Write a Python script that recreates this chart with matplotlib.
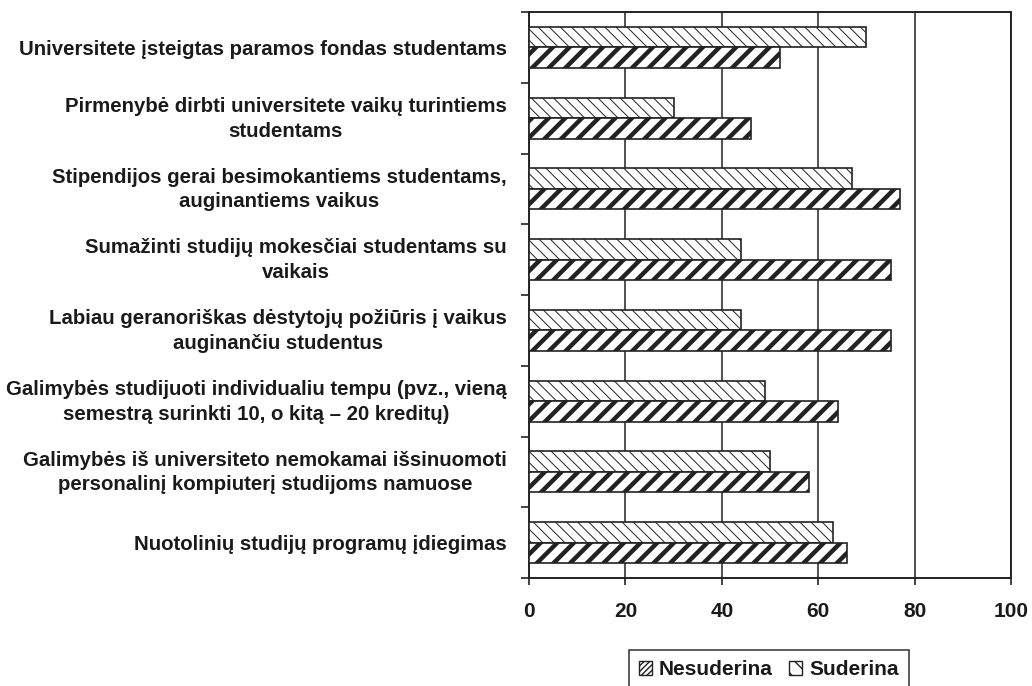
import matplotlib
matplotlib.use("Agg")
import matplotlib.pyplot as plt
import matplotlib.transforms as mtransforms
import numpy as np
from matplotlib.patches import Patch

categories = [
    "Universitete įsteigtas paramos fondas studentams",
    "Pirmenybė dirbti universitete vaikų turintiems\nstudentams",
    "Stipendijos gerai besimokantiems studentams,\nauginantiems vaikus",
    "Sumažinti studijų mokesčiai studentams su\nvaikais",
    "Labiau geranoriškas dėstytojų požiūris į vaikus\nauginančiu studentus",
    "Galimybės studijuoti individualiu tempu (pvz., vieną\nsemestrą surinkti 10, o kitą – 20 kreditų)",
    "Galimybės iš universiteto nemokamai išsinuomoti\npersonalinį kompiuterį studijoms namuose",
    "Nuotolinių studijų programų įdiegimas",
]
nesuderina = [52, 46, 77, 75, 75, 64, 58, 66]
suderina = [70, 30, 67, 44, 44, 49, 50, 63]
x_ticks = [0, 20, 40, 60, 80, 100]

plt.rcParams['font.family'] = ['Liberation Sans', 'DejaVu Sans']
plt.rcParams['font.weight'] = 'bold'
text_color = '#1a1a1a'
edge = '#222222'

fig = plt.figure(figsize=(10.32, 6.86), dpi=100)
ax = fig.add_axes([0.5126, 0.1574, 0.4671, 0.8251])

y = np.arange(len(categories))
h = 0.29

sud_bars = ax.barh(y - h / 2, suderina, height=h, color='white', edgecolor=edge,
                   linewidth=1.2, hatch='\\\\\\', zorder=3)
nes_bars = ax.barh(y + h / 2, nesuderina, height=h, color='white', edgecolor=edge,
                   linewidth=1.2, hatch='//', zorder=3)
for p in sud_bars:
    if hasattr(p, 'set_hatch_linewidth'):
        p.set_hatch_linewidth(0.7)
for p in nes_bars:
    if hasattr(p, 'set_hatch_linewidth'):
        p.set_hatch_linewidth(3.2)

ax.set_xlim(0, 100)
ax.set_ylim(len(categories) - 0.5, -0.5)
ax.set_xticks(x_ticks)
ax.set_xticklabels([str(t) for t in x_ticks], fontsize=15, fontweight='bold', color=text_color)
ax.tick_params(axis='x', direction='out', length=5, width=1.2, color=edge, pad=12)

ax.set_yticks(y)
ax.set_yticklabels(categories, fontsize=14.7, fontweight='bold', color=text_color,
                   multialignment='center', linespacing=1.38)
ax.tick_params(axis='y', which='major', length=0, pad=16)
ax.set_yticks(np.arange(len(categories) + 1) - 0.5, minor=True)
ax.tick_params(axis='y', which='minor', direction='out', length=6, width=1.2, color=edge)

# nudge two-line category labels up a little
shift = mtransforms.ScaledTranslation(0, 3 / 72, fig.dpi_scale_trans)
for lbl in ax.get_yticklabels():
    if '\n' in lbl.get_text():
        lbl.set_transform(lbl.get_transform() + shift)

ax.xaxis.grid(True, color='#333333', linewidth=1.2, zorder=0)
ax.set_axisbelow(True)
for s in ax.spines.values():
    s.set_color(edge)
    s.set_linewidth(1.4)

handles = [
    Patch(facecolor='white', edgecolor=edge, hatch='//////', label='Nesuderina'),
    Patch(facecolor='white', edgecolor=edge, hatch='\\\\', label='Suderina'),
]
leg = fig.legend(handles=handles, loc='upper center', bbox_to_anchor=(0.745, 0.0525), ncol=2,
                 frameon=True, fancybox=False, fontsize=15, handlelength=0.6,
                 handleheight=0.6, handletextpad=0.35, columnspacing=0.8,
                 borderpad=0.5, borderaxespad=0, edgecolor='#111111')
leg.get_frame().set_linewidth(1.2)
for t in leg.get_texts():
    t.set_fontweight('bold')
    t.set_color(text_color)

plt.savefig('out.png', dpi=100, facecolor='white')
plt.close()
